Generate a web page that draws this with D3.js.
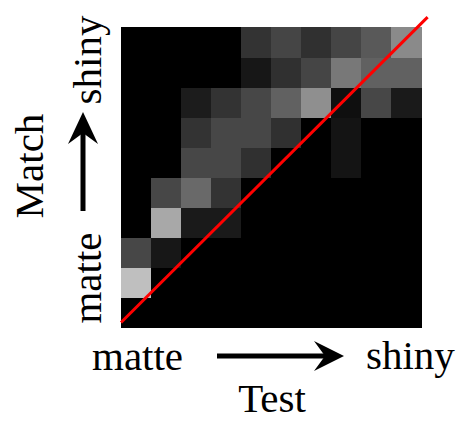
<!DOCTYPE html>
<html>
<head>
<meta charset="utf-8">
<script src="https://cdn.jsdelivr.net/npm/d3@7"></script>
<style>
  html, body { margin: 0; padding: 0; background: #fff; }
  svg { display: block; }
  text { font-family: "Liberation Serif", "Times New Roman", serif; fill: #000; }
</style>
</head>
<body>
<svg id="chart" width="460" height="422"></svg>
<script>
// Test bins (columns, matte -> shiny) and Match bins (rows, shiny at top -> matte at bottom)
const testBins = d3.range(10);
const matchBins = d3.range(9, -1, -1);
// Intensity (0-100) per cell; each row is one Match bin, top row = shiniest
const row9 = [0, 0, 0, 0, 20, 27, 19, 27, 35, 54];
const row8 = [0, 0, 0, 0, 9, 19, 27, 47, 38, 38];
const row7 = [0, 0, 11, 20, 28, 38, 56, 6, 28, 10];
const row6 = [0, 0, 20, 28, 28, 19, 0, 8, 0, 0];
const row5 = [0, 0, 28, 28, 19, 0, 0, 8, 0, 0];
const row4 = [0, 28, 41, 20, 0, 0, 0, 0, 0, 0];
const row3 = [0, 66, 10, 10, 0, 0, 0, 0, 0, 0];
const row2 = [28, 9, 0, 0, 0, 0, 0, 0, 0, 0];
const row1 = [75, 0, 0, 0, 0, 0, 0, 0, 0, 0];
const row0 = [0, 0, 0, 0, 0, 0, 0, 0, 0, 0];
const rows = [row0, row1, row2, row3, row4, row5, row6, row7, row8, row9];
// Reference diagonal (Match = Test)
const diagonal = [[0, 0.15], [10.22, 10.33]];
const axisLabels = { xLow: "matte", xHigh: "shiny", xTitle: "Test", yLow: "matte", yHigh: "shiny", yTitle: "Match" };

const svg = d3.select("#chart");
const pLeft = 121, pRight = 421, pTop = 27, pBottom = 327;

const x = d3.scaleBand().domain(testBins).range([pLeft, pRight]);
const y = d3.scaleBand().domain(matchBins).range([pTop, pBottom]);
const xl = d3.scaleLinear().domain([0, 10]).range([pLeft, pRight]);
const yl = d3.scaleLinear().domain([0, 10]).range([pBottom, pTop]);
const color = d3.scaleLinear().domain([0, 100]).range(["#000000", "#ffffff"]);

const cells = [];
rows.forEach((r, mi) => r.forEach((v, ti) => cells.push({ t: testBins[ti], m: mi, v })));

svg.append("g").selectAll("rect").data(cells).join("rect")
  .attr("x", d => x(d.t))
  .attr("y", d => y(d.m))
  .attr("width", x.bandwidth() + 0.5)
  .attr("height", y.bandwidth() + 0.5)
  .attr("fill", d => color(d.v))
  .attr("shape-rendering", "crispEdges");

svg.append("path")
  .datum(diagonal)
  .attr("d", d3.line().x(d => xl(d[0])).y(d => yl(d[1])))
  .attr("stroke", "#ff0000")
  .attr("stroke-width", 3)
  .attr("fill", "none");

// Arrows
function arrowH(x0, x1, yc) {
  const g = svg.append("g");
  g.append("line").attr("x1", x0).attr("x2", x1 - 16).attr("y1", yc).attr("y2", yc)
    .attr("stroke", "#000").attr("stroke-width", 5);
  g.append("path")
    .attr("d", `M${x1},${yc} L${x1 - 30},${yc - 15} L${x1 - 19},${yc} L${x1 - 30},${yc + 15} Z`)
    .attr("fill", "#000");
}
function arrowV(xc, y0, y1) {
  const g = svg.append("g");
  g.append("line").attr("x1", xc).attr("x2", xc).attr("y1", y0).attr("y2", y1 + 16)
    .attr("stroke", "#000").attr("stroke-width", 5);
  g.append("path")
    .attr("d", `M${xc},${y1} L${xc - 15},${y1 + 32} L${xc},${y1 + 21} L${xc + 15},${y1 + 32} Z`)
    .attr("fill", "#000");
}
arrowH(217, 344, 356);
arrowV(83, 211, 112);

const fs = 41;
svg.append("text").attr("x", 92).attr("y", 370).attr("font-size", fs).text(axisLabels.xLow);
svg.append("text").attr("x", 366).attr("y", 369).attr("font-size", fs).text(axisLabels.xHigh);
svg.append("text").attr("x", 272).attr("y", 412).attr("font-size", fs).attr("text-anchor", "middle").text(axisLabels.xTitle);

svg.append("text").attr("transform", "translate(101,278) rotate(-90)").attr("font-size", fs)
  .attr("text-anchor", "middle").text(axisLabels.yLow);
svg.append("text").attr("transform", "translate(101,60) rotate(-90)").attr("font-size", fs)
  .attr("text-anchor", "middle").text(axisLabels.yHigh);
svg.append("text").attr("transform", "translate(43,166) rotate(-90)").attr("font-size", fs)
  .attr("text-anchor", "middle").text(axisLabels.yTitle);
</script>
</body>
</html>
